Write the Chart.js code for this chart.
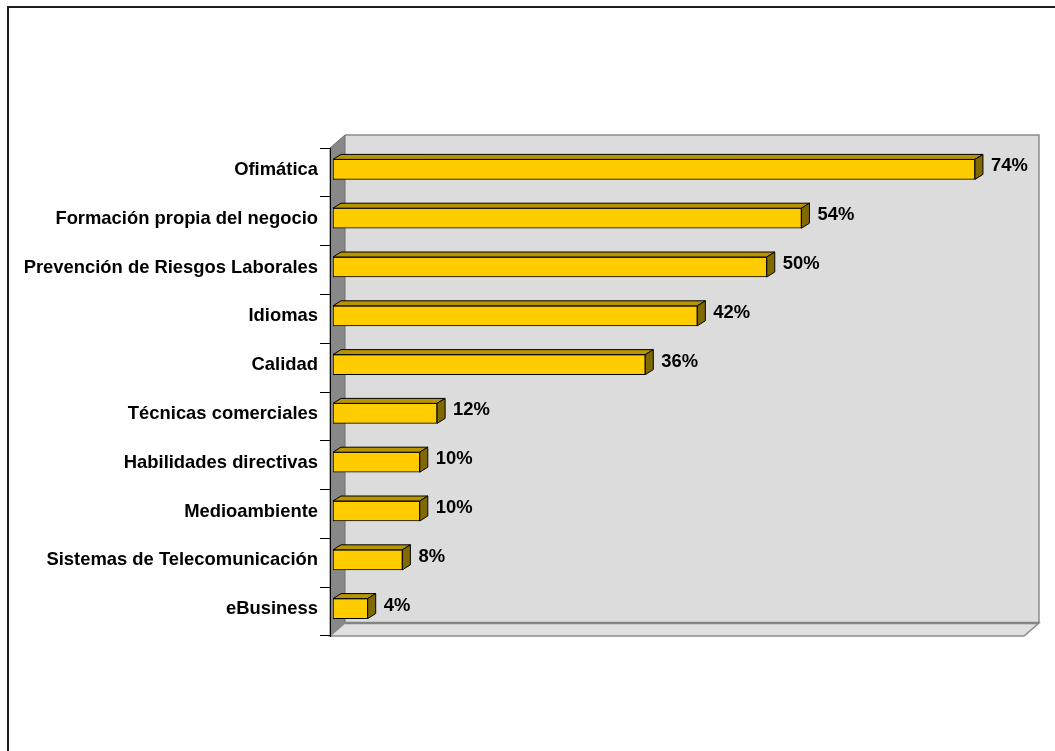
<!DOCTYPE html>
<html>
<head>
<meta charset="utf-8">
<style>
  html, body { margin: 0; padding: 0; background: #fff; overflow: hidden; }
  #wrap { width: 1055px; height: 751px; position: relative; }
</style>
<script src="https://cdn.jsdelivr.net/npm/chart.js@4.4.1/dist/chart.umd.min.js"></script>
</head>
<body>
<div id="wrap"><canvas id="c" width="1055" height="751"></canvas></div>
<script>
// Training areas and share of companies (%)
const categories = [
  'Ofimática',
  'Formación propia del negocio',
  'Prevención de Riesgos Laborales',
  'Idiomas',
  'Calidad',
  'Técnicas comerciales',
  'Habilidades directivas',
  'Medioambiente',
  'Sistemas de Telecomunicación',
  'eBusiness'
];
const percentages = [74, 54, 50, 42, 36, 12, 10, 10, 8, 4];
const axisRange = [0, 80];

const FONT = '"Liberation Sans", Arial, Helvetica, sans-serif';
const FONT_SIZE = 18.4;

// 3D projection offsets (pixels)
const WALL_DEPTH = { dx: 15, dy: -13 };   // depth of the walls / floor
const BAR_SHIFT  = { dx: 3,  dy: -3 };    // where the bar front face sits in depth
const BAR_DEPTH  = { dx: 8,  dy: -5 };    // thickness of each bar box

const COLORS = {
  front: '#FFCC00',
  top: '#B89400',
  side: '#806A00',
  wall: '#DCDCDC',
  floor: '#E0E0E0',
  leftWall: '#888888',
  wallEdge: '#8C8C8C'
};

function poly(ctx, pts) {
  ctx.beginPath();
  ctx.moveTo(pts[0][0], pts[0][1]);
  for (let i = 1; i < pts.length; i++) ctx.lineTo(pts[i][0], pts[i][1]);
  ctx.closePath();
}

// Background, frame, walls and floor of the 3D box; bar depth faces and value labels
const scene3d = {
  id: 'scene3d',
  beforeDraw(chart) {
    const { ctx, chartArea: a } = chart;
    const dx = WALL_DEPTH.dx, dy = WALL_DEPTH.dy;
    ctx.save();
    ctx.fillStyle = '#fff';
    ctx.fillRect(0, 0, chart.width, chart.height);

    // outer frame
    ctx.strokeStyle = '#1e1e1e';
    ctx.lineWidth = 2;
    ctx.strokeRect(8, 7, chart.width + 40, chart.height + 40);

    // back wall
    ctx.fillStyle = COLORS.wall;
    ctx.fillRect(a.left + dx, a.top + dy, a.right - a.left, a.bottom - a.top);
    ctx.strokeStyle = COLORS.wallEdge;
    ctx.lineWidth = 1.5;
    ctx.beginPath();
    ctx.moveTo(a.left + dx, a.top + dy);
    ctx.lineTo(a.right + dx, a.top + dy);
    ctx.lineTo(a.right + dx, a.bottom + dy);
    ctx.stroke();

    // left wall
    ctx.fillStyle = COLORS.leftWall;
    poly(ctx, [[a.left, a.top], [a.left + dx, a.top + dy], [a.left + dx, a.bottom + dy], [a.left, a.bottom]]);
    ctx.fill();
    ctx.strokeStyle = '#6e6e6e';
    ctx.lineWidth = 1;
    ctx.stroke();

    // floor
    ctx.fillStyle = COLORS.floor;
    poly(ctx, [[a.left, a.bottom], [a.left + dx, a.bottom + dy], [a.right + dx, a.bottom + dy], [a.right, a.bottom]]);
    ctx.fill();
    ctx.strokeStyle = COLORS.wallEdge;
    ctx.lineWidth = 1.5;
    ctx.stroke();
    ctx.lineWidth = 2.5;
    ctx.strokeStyle = '#848484';
    ctx.beginPath();
    ctx.moveTo(a.left + dx, a.bottom + dy);
    ctx.lineTo(a.right + dx, a.bottom + dy);
    ctx.stroke();
    ctx.restore();
  },
  beforeDatasetsDraw(chart) {
    chart.ctx.save();
    chart.ctx.translate(BAR_SHIFT.dx, BAR_SHIFT.dy);
  },
  afterDatasetsDraw(chart) {
    const ctx = chart.ctx;
    const meta = chart.getDatasetMeta(0);
    const bx = BAR_DEPTH.dx, by = BAR_DEPTH.dy;
    ctx.lineWidth = 1;
    ctx.strokeStyle = '#000';
    meta.data.forEach((el, i) => {
      const x0 = el.base, x1 = el.x;
      const t = el.y - el.height / 2, b = el.y + el.height / 2;
      // top face
      poly(ctx, [[x0, t], [x1, t], [x1 + bx, t + by], [x0 + bx, t + by]]);
      ctx.fillStyle = COLORS.top;
      ctx.fill();
      ctx.stroke();
      // side face
      poly(ctx, [[x1, t], [x1 + bx, t + by], [x1 + bx, b + by], [x1, b]]);
      ctx.fillStyle = COLORS.side;
      ctx.fill();
      ctx.stroke();
      // value label
      ctx.fillStyle = '#000';
      ctx.font = 'bold ' + FONT_SIZE + 'px ' + FONT;
      ctx.textAlign = 'left';
      ctx.textBaseline = 'middle';
      ctx.fillText(percentages[i] + '%', x1 + bx + 8, el.y - 3);
    });
    ctx.restore();
  }
};

new Chart(document.getElementById('c'), {
  type: 'bar',
  data: {
    labels: categories,
    datasets: [{
      data: percentages,
      backgroundColor: COLORS.front,
      borderColor: '#000',
      borderWidth: 1,
      borderSkipped: false,
      barThickness: 20
    }]
  },
  options: {
    indexAxis: 'y',
    responsive: false,
    animation: false,
    devicePixelRatio: 1,
    layout: { padding: { top: 148, right: 31, bottom: 115, left: 0 } },
    plugins: {
      legend: { display: false },
      tooltip: { enabled: false }
    },
    scales: {
      x: { display: false, min: axisRange[0], max: axisRange[1] },
      y: {
        afterFit(scale) { scale.width = 330; },
        grid: {
          offset: true,
          drawOnChartArea: false,
          drawTicks: true,
          tickLength: 10,
          color: '#000',
          lineWidth: 1
        },
        border: { display: true, color: '#000', width: 1 },
        ticks: {
          color: '#000',
          padding: 2,
          labelOffset: -2.5,
          font: { family: FONT, size: FONT_SIZE, weight: 'bold' }
        }
      }
    }
  },
  plugins: [scene3d]
});
</script>
</body>
</html>
